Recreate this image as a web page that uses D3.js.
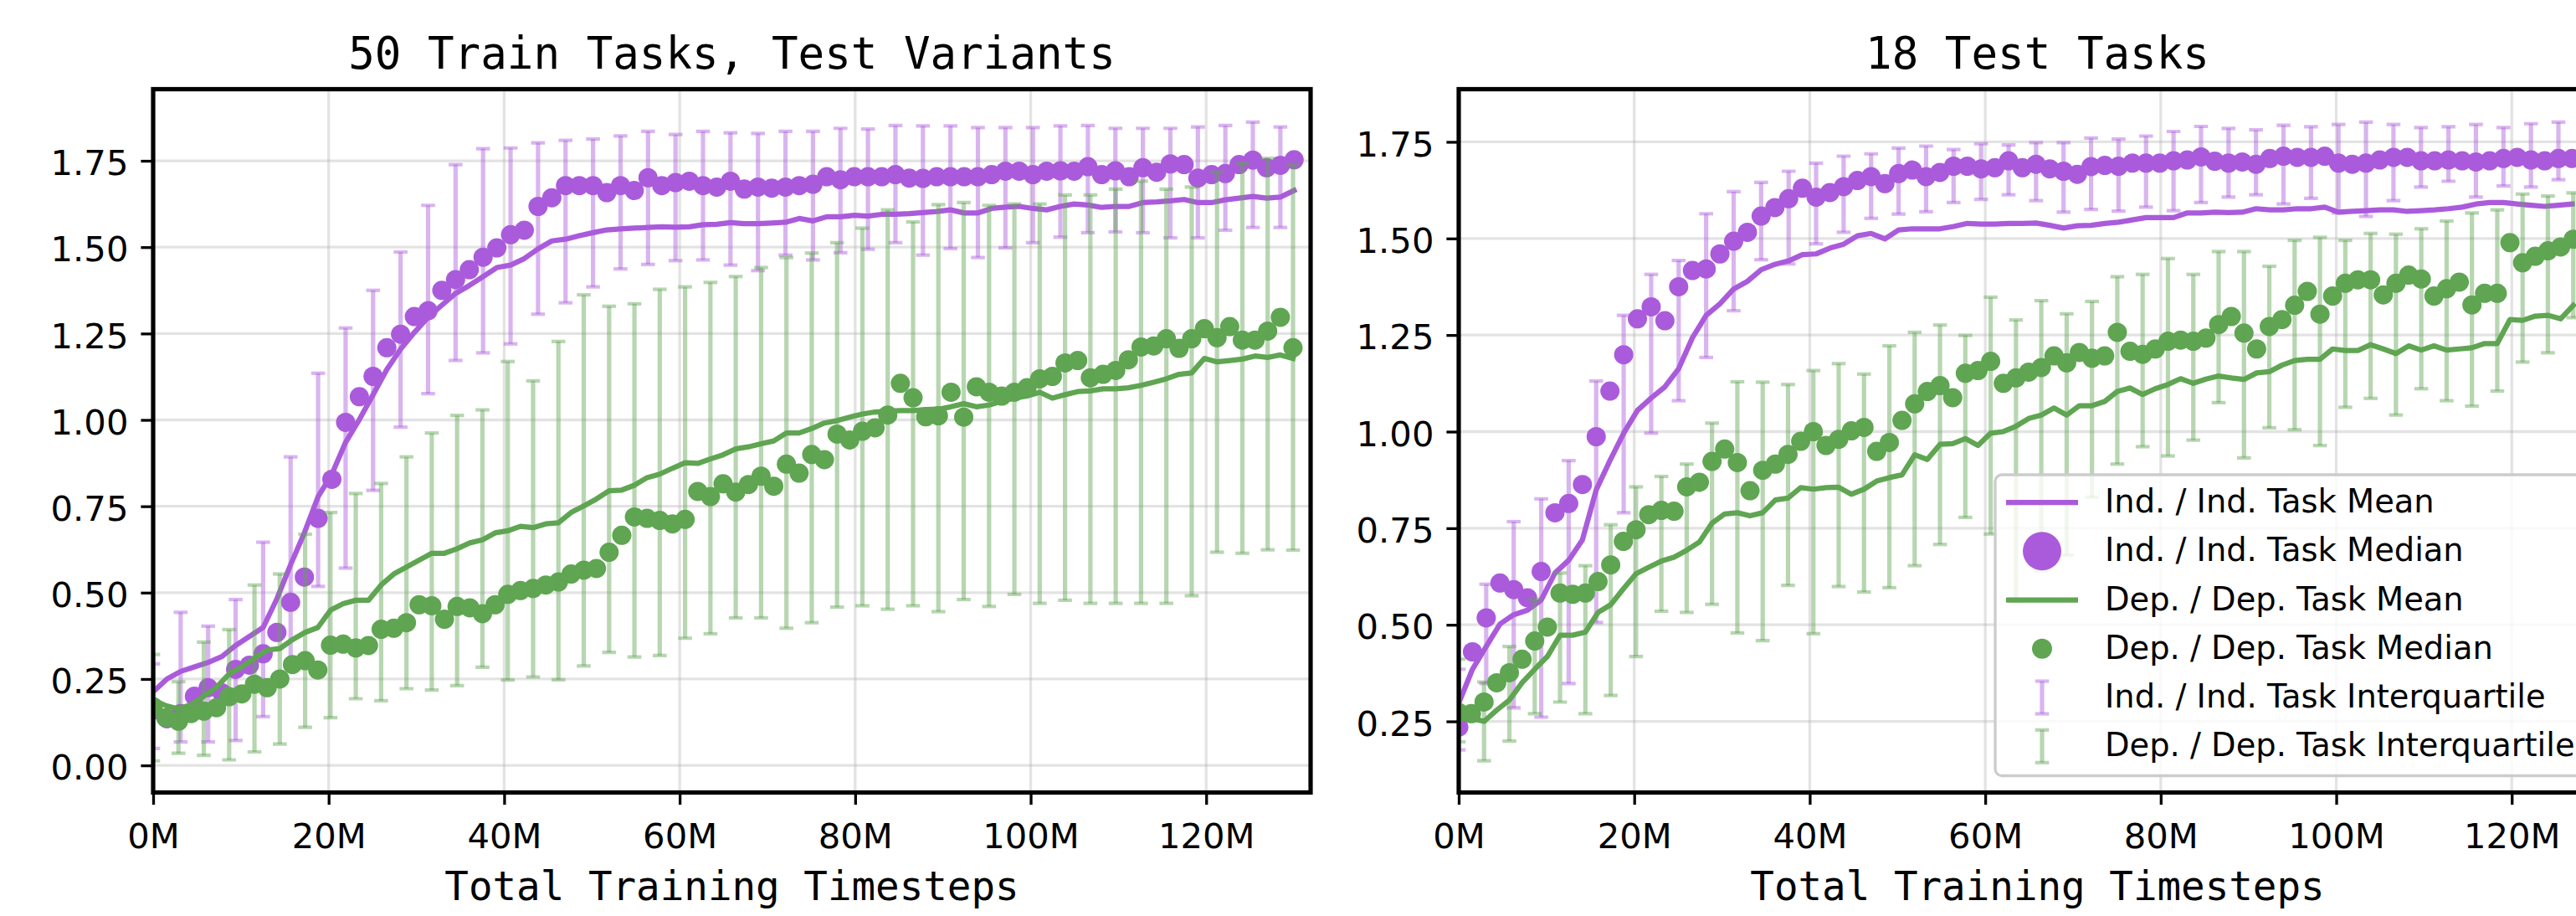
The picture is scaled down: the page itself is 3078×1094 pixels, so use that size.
<!DOCTYPE html>
<html>
<head>
<meta charset="utf-8">
<script src="https://cdn.jsdelivr.net/npm/d3@7"></script>
<style>
  html, body { margin: 0; padding: 0; background: #fff; }
  svg { display: block; }
</style>
</head>
<body>
<svg id="chart" width="3078" height="1094"></svg>
<script>
// ---------------- DATA ----------------
// Timesteps are logged at a fixed interval (millions of steps) per series type.
const IND_INTERVAL_M = 1.5665;   // Ind. / Ind. series logging interval
const DEP_INTERVAL_M = 1.4433;   // Dep. / Dep. series logging interval
const ERROR_EVERY = 2;           // interquartile bars shown on every 2nd point

const xTickValues = [0, 20, 40, 60, 80, 100, 120];
const xTickLabels = ["0M", "20M", "40M", "60M", "80M", "100M", "120M"];
const yTicksTrain = [0, 0.25, 0.5, 0.75, 1.0, 1.25, 1.5, 1.75];
const yTicksTest  = [0.25, 0.5, 0.75, 1.0, 1.25, 1.5, 1.75];

const titles = ["50 Train Tasks, Test Variants", "18 Test Tasks"];
const xLabel = "Total Training Timesteps";
const legendLabels = [
  "Ind. / Ind. Task Mean",
  "Ind. / Ind. Task Median",
  "Dep. / Dep. Task Mean",
  "Dep. / Dep. Task Median",
  "Ind. / Ind. Task Interquartile",
  "Dep. / Dep. Task Interquartile"
];

// ---- Panel 1: 50 Train Tasks, Test Variants ----
const trainIndMedian = [0.16,0.135,0.15,0.20,0.225,0.21,0.278,0.29,0.323,0.385,
  0.472,0.545,0.715,0.828,0.993,1.067,1.126,1.209,1.248,1.299,
  1.316,1.375,1.406,1.435,1.471,1.498,1.536,1.549,1.618,1.643,
  1.678,1.678,1.678,1.658,1.678,1.664,1.701,1.678,1.687,1.691,
  1.678,1.674,1.691,1.668,1.674,1.671,1.674,1.678,1.682,1.704,
  1.695,1.704,1.704,1.704,1.710,1.700,1.699,1.704,1.704,1.704,
  1.704,1.710,1.720,1.720,1.710,1.720,1.721,1.720,1.733,1.710,
  1.721,1.704,1.730,1.717,1.741,1.739,1.700,1.710,1.713,1.739,
  1.752,1.730,1.737,1.753];
const trainIndMean = [0.213,0.25,0.272,0.285,0.298,0.315,0.347,0.373,0.399,0.482,
  0.581,0.673,0.778,0.843,0.935,1.001,1.073,1.146,1.205,1.253,
  1.297,1.332,1.366,1.389,1.415,1.441,1.448,1.467,1.495,1.518,
  1.523,1.533,1.542,1.550,1.553,1.555,1.557,1.559,1.558,1.559,
  1.565,1.566,1.571,1.568,1.568,1.570,1.572,1.583,1.576,1.588,
  1.588,1.592,1.590,1.595,1.595,1.597,1.600,1.603,1.608,1.599,
  1.599,1.612,1.616,1.618,1.612,1.608,1.618,1.625,1.622,1.615,
  1.618,1.618,1.629,1.631,1.634,1.638,1.629,1.629,1.637,1.642,
  1.647,1.642,1.645,1.664];
const trainIndQ1 = [0.049,0.068,0.068,0.072,0.141,0.298,0.518,0.571,0.796,0.979,
  1.076,1.172,1.194,1.220,1.306,1.339,1.385,1.437,1.450,1.461,
  1.463,1.448,1.432,1.477,1.463,1.484,1.494,1.513,1.477,1.496,
  1.470,1.498,1.513,1.529,1.542,1.544,1.542,1.527,1.527,1.549,
  1.557,1.557];
const trainIndQ3 = [0.294,0.443,0.403,0.480,0.646,0.893,1.135,1.266,1.375,1.486,
  1.621,1.739,1.785,1.787,1.802,1.809,1.813,1.822,1.835,1.826,
  1.835,1.831,1.829,1.835,1.835,1.844,1.842,1.852,1.851,1.851,
  1.846,1.846,1.846,1.851,1.852,1.844,1.844,1.844,1.848,1.852,
  1.862,1.848];
const trainDepMedian = [0.17,0.138,0.128,0.15,0.157,0.167,0.199,0.207,0.235,0.225,
  0.25,0.292,0.303,0.276,0.348,0.351,0.34,0.347,0.394,0.397,
  0.413,0.465,0.462,0.423,0.46,0.456,0.439,0.465,0.495,0.506,
  0.512,0.522,0.531,0.554,0.565,0.570,0.617,0.666,0.719,0.715,
  0.709,0.699,0.712,0.793,0.778,0.815,0.791,0.813,0.837,0.808,
  0.872,0.846,0.900,0.885,0.959,0.942,0.967,0.977,1.014,1.106,
  1.064,1.009,1.012,1.080,1.008,1.096,1.080,1.069,1.080,1.093,
  1.119,1.126,1.165,1.172,1.122,1.132,1.143,1.174,1.211,1.214,
  1.235,1.207,1.235,1.264,1.238,1.270,1.231,1.231,1.257,1.297,
  1.209];
const trainDepMean = [0.19,0.173,0.163,0.176,0.2,0.226,0.265,0.285,0.31,0.334,
  0.338,0.364,0.385,0.399,0.449,0.468,0.478,0.478,0.522,0.554,
  0.574,0.594,0.614,0.614,0.627,0.644,0.653,0.673,0.679,0.692,
  0.688,0.699,0.702,0.732,0.751,0.771,0.795,0.797,0.811,0.833,
  0.843,0.86,0.876,0.874,0.887,0.899,0.916,0.922,0.931,0.939,
  0.962,0.962,0.975,0.991,0.998,1.008,1.017,1.023,1.025,1.027,
  1.027,1.030,1.031,1.038,1.047,1.038,1.043,1.054,1.063,1.069,
  1.080,1.063,1.073,1.082,1.084,1.090,1.090,1.093,1.100,1.109,
  1.119,1.132,1.136,1.178,1.168,1.172,1.176,1.185,1.181,1.188,
  1.178];
const trainDepQ1 = [0.013,0.035,0.029,0.016,0.039,0.062,0.110,0.138,0.193,0.187,
  0.222,0.218,0.231,0.284,0.247,0.256,0.248,0.288,0.327,0.314,
  0.318,0.368,0.381,0.427,0.427,0.397,0.413,0.458,0.462,0.452,
  0.462,0.445,0.480,0.460,0.495,0.469,0.478,0.469,0.469,0.469,
  0.469,0.491,0.617,0.614,0.624,0.623];
const trainDepQ3 = [0.321,0.242,0.357,0.393,0.522,0.554,0.669,0.732,0.787,0.816,
  0.893,0.962,1.013,1.029,1.169,1.113,1.227,1.362,1.329,1.336,
  1.378,1.385,1.398,1.415,1.441,1.470,1.483,1.513,1.555,1.608,
  1.573,1.623,1.629,1.621,1.625,1.625,1.651,1.651,1.668,1.691,
  1.668,1.674,1.717,1.743,1.757,1.739];

// ---- Panel 2: 18 Test Tasks ----
const testIndMedian = [0.235,0.430,0.518,0.608,0.591,0.570,0.638,0.790,0.814,0.863,
  0.987,1.105,1.199,1.292,1.323,1.287,1.375,1.417,1.421,1.460,
  1.493,1.516,1.558,1.580,1.603,1.630,1.607,1.619,1.634,1.650,
  1.660,1.642,1.668,1.677,1.660,1.671,1.687,1.687,1.680,1.683,
  1.701,1.683,1.692,1.680,1.674,1.666,1.686,1.689,1.687,1.695,
  1.695,1.695,1.701,1.703,1.711,1.700,1.695,1.698,1.692,1.707,
  1.713,1.710,1.710,1.713,1.695,1.692,1.695,1.703,1.710,1.710,
  1.701,1.701,1.703,1.701,1.698,1.701,1.707,1.710,1.703,1.701,
  1.707,1.707];
const testIndMean = [0.297,0.385,0.444,0.502,0.526,0.538,0.564,0.634,0.667,0.720,
  0.849,0.925,0.996,1.055,1.087,1.116,1.163,1.243,1.301,1.331,
  1.369,1.389,1.419,1.433,1.442,1.458,1.460,1.475,1.485,1.507,
  1.513,1.499,1.522,1.525,1.525,1.525,1.531,1.539,1.537,1.537,
  1.539,1.539,1.540,1.534,1.527,1.533,1.534,1.539,1.542,1.548,
  1.554,1.554,1.554,1.566,1.566,1.568,1.567,1.568,1.577,1.574,
  1.574,1.577,1.577,1.581,1.568,1.570,1.572,1.574,1.574,1.570,
  1.572,1.574,1.577,1.581,1.589,1.593,1.593,1.589,1.586,1.583,
  1.586,1.589];
const testIndQ1 = [0.176,0.348,0.285,0.261,0.348,0.506,0.790,0.996,1.080,1.192,
  1.313,1.445,1.434,1.486,1.516,1.552,1.563,1.569,1.593,1.601,
  1.613,1.598,1.568,1.575,1.571,1.581,1.572,1.593,1.607,1.613,
  1.589,1.604,1.566,1.557,1.598,1.633,1.648,1.607,1.636,1.633,
  1.652];
const testIndQ3 = [0.385,0.605,0.767,0.826,0.925,1.131,1.301,1.407,1.443,1.564,
  1.621,1.645,1.674,1.695,1.713,1.719,1.734,1.739,1.730,1.745,
  1.742,1.748,1.748,1.760,1.757,1.765,1.777,1.790,1.785,1.781,
  1.793,1.789,1.795,1.801,1.795,1.787,1.789,1.795,1.787,1.797,
  1.801];
const testDepMedian = [0.273,0.270,0.300,0.350,0.376,0.411,0.458,0.494,0.582,0.579,
  0.582,0.612,0.655,0.716,0.746,0.785,0.796,0.794,0.857,0.869,
  0.923,0.955,0.920,0.847,0.900,0.916,0.941,0.975,1.000,0.964,
  0.980,1.002,1.011,0.949,0.972,1.029,1.072,1.104,1.119,1.088,
  1.151,1.158,1.182,1.125,1.139,1.154,1.166,1.196,1.178,1.205,
  1.190,1.196,1.257,1.208,1.200,1.214,1.234,1.237,1.234,1.242,
  1.277,1.298,1.255,1.214,1.272,1.290,1.327,1.363,1.304,1.351,
  1.384,1.393,1.393,1.354,1.384,1.405,1.395,1.351,1.370,1.387,
  1.328,1.358,1.358,1.489,1.437,1.454,1.468,1.478,1.498];
const testDepMean = [0.258,0.258,0.250,0.279,0.305,0.350,0.385,0.418,0.473,0.473,
  0.481,0.532,0.552,0.593,0.632,0.649,0.665,0.675,0.693,0.714,
  0.763,0.787,0.790,0.782,0.790,0.823,0.828,0.855,0.851,0.855,
  0.856,0.838,0.851,0.872,0.881,0.888,0.940,0.928,0.967,0.969,
  0.982,0.964,0.996,1.000,1.014,1.034,1.043,1.061,1.043,1.067,
  1.067,1.078,1.104,1.113,1.096,1.111,1.122,1.137,1.125,1.136,
  1.144,1.139,1.135,1.152,1.155,1.172,1.184,1.187,1.187,1.214,
  1.210,1.210,1.225,1.214,1.202,1.222,1.211,1.222,1.211,1.214,
  1.217,1.228,1.228,1.290,1.288,1.299,1.301,1.292,1.327];
const testDepQ1 = [0.197,0.148,0.199,0.270,0.300,0.270,0.317,0.418,0.535,0.532,
  0.553,0.479,0.459,0.602,0.477,0.599,0.585,0.596,0.653,0.708,
  0.778,0.735,0.56,0.64,0.68,0.83,0.916,0.961,0.937,0.978,
  1.075,0.932,1.010,1.005,0.964,1.063,1.086,1.043,1.111,1.080,
  1.066,1.105,1.180,1.204,1.295];
const testDepQ3 = [0.411,0.352,0.444,0.567,0.634,0.653,0.759,0.857,0.884,0.916,
  1.022,1.129,1.128,1.122,1.158,1.176,1.149,1.222,1.257,1.276,
  1.249,1.348,1.289,1.339,1.305,1.337,1.401,1.407,1.448,1.407,
  1.466,1.466,1.428,1.495,1.503,1.495,1.513,1.511,1.525,1.545,
  1.566,1.574,1.615,1.610,1.618];

// ---------------- STYLE / LAYOUT ----------------
const PURPLE = "#aa5bdb";
const GREEN = "#5fa552";
const BAR_ALPHA = 0.45;
const AX_TOP = 106.5, AX_BOTTOM = 946.5, AX_W = 1383;
const X_MAX = 131.9;
const TICK_FONT = 41.7;

const svg = d3.select("#chart");
const defs = svg.append("defs");

function drawPanel(cfg) {
  const g = svg.append("g");
  const x = d3.scaleLinear().domain([0, X_MAX]).range([cfg.left, cfg.left + AX_W]);
  const y = d3.scaleLinear().domain(cfg.yDomain).range([AX_BOTTOM, AX_TOP]);

  defs.append("clipPath").attr("id", "clip" + cfg.id)
    .append("rect").attr("x", cfg.left).attr("y", AX_TOP)
    .attr("width", AX_W).attr("height", AX_BOTTOM - AX_TOP);

  // grid
  const grid = g.append("g");
  grid.selectAll("line.gx").data(xTickValues).join("line").attr("class", "gx")
    .attr("x1", d => x(d)).attr("x2", d => x(d)).attr("y1", AX_TOP).attr("y2", AX_BOTTOM)
    .attr("stroke", "#b0b0b0").attr("stroke-opacity", 0.35).attr("stroke-width", 3.3);
  grid.selectAll("line.gy").data(cfg.yTicks).join("line").attr("class", "gy")
    .attr("x1", cfg.left).attr("x2", cfg.left + AX_W).attr("y1", d => y(d)).attr("y2", d => y(d))
    .attr("stroke", "#b0b0b0").attr("stroke-opacity", 0.35).attr("stroke-width", 3.3);

  const plot = g.append("g").attr("clip-path", `url(#clip${cfg.id})`);

  cfg.groups.forEach(grp => {
    const xs = (i) => x(i * grp.interval);
    // mean line
    plot.append("path").datum(grp.mean)
      .attr("d", d3.line().x((d, i) => xs(i)).y(d => y(d)))
      .attr("fill", "none").attr("stroke", grp.color).attr("stroke-width", 6.25)
      .attr("stroke-linejoin", "round").attr("stroke-linecap", "square");
    // median markers
    plot.append("g").selectAll("circle").data(grp.median).join("circle")
      .attr("cx", (d, i) => xs(i)).attr("cy", d => y(d)).attr("r", 11.5)
      .attr("fill", grp.color);
    // interquartile error bars (every 2nd point)
    const bars = grp.q1.map((lo, k) => ({ i: k * ERROR_EVERY, lo, hi: grp.q3[k] }));
    const eb = plot.append("g").attr("stroke", grp.color).attr("stroke-opacity", BAR_ALPHA);
    eb.selectAll("line.v").data(bars).join("line").attr("class", "v")
      .attr("x1", d => xs(d.i)).attr("x2", d => xs(d.i))
      .attr("y1", d => y(d.lo)).attr("y2", d => y(d.hi)).attr("stroke-width", 5.2);
    ["lo", "hi"].forEach(k => {
      eb.selectAll("line.c" + k).data(bars).join("line").attr("class", "c" + k)
        .attr("x1", d => xs(d.i) - 8.3).attr("x2", d => xs(d.i) + 8.3)
        .attr("y1", d => y(d[k])).attr("y2", d => y(d[k])).attr("stroke-width", 4.2);
    });
  });

  // spines
  g.append("rect").attr("x", cfg.left).attr("y", AX_TOP).attr("width", AX_W)
    .attr("height", AX_BOTTOM - AX_TOP).attr("fill", "none")
    .attr("stroke", "#000").attr("stroke-width", 5.2);

  // axes
  const xAxis = d3.axisBottom(x).tickValues(xTickValues)
    .tickFormat((d, i) => xTickLabels[i]).tickSize(14.6).tickPadding(22);
  g.append("g").attr("transform", `translate(0,${AX_BOTTOM})`).call(xAxis)
    .call(a => a.select(".domain").remove())
    .call(a => a.selectAll(".tick line").attr("stroke", "#000").attr("stroke-width", 3.3))
    .call(a => a.selectAll(".tick text").attr("font-family", "DejaVu Sans")
      .attr("font-size", TICK_FONT).attr("fill", "#000"));

  const yAxis = d3.axisLeft(y).tickValues(cfg.yTicks).tickFormat(d3.format(".2f"))
    .tickSize(14.6).tickPadding(15);
  g.append("g").attr("transform", `translate(${cfg.left},0)`).call(yAxis)
    .call(a => a.select(".domain").remove())
    .call(a => a.selectAll(".tick line").attr("stroke", "#000").attr("stroke-width", 3.3))
    .call(a => a.selectAll(".tick text").attr("font-family", "DejaVu Sans")
      .attr("font-size", TICK_FONT).attr("fill", "#000").attr("dy", "0.40em"));

  // title & x label
  g.append("text").attr("x", cfg.left + AX_W / 2).attr("y", 82)
    .attr("text-anchor", "middle").attr("font-family", "DejaVu Sans Mono")
    .attr("font-size", 52.5).attr("fill", "#000").text(cfg.title);
  g.append("text").attr("x", cfg.left + AX_W / 2).attr("y", 1075)
    .attr("text-anchor", "middle").attr("font-family", "DejaVu Sans Mono")
    .attr("font-size", 47.5).attr("fill", "#000").text(xLabel);
}

const panels = [
  { id: 0, left: 183, title: titles[0], yDomain: [-0.0785, 1.9573], yTicks: yTicksTrain,
    groups: [
      { color: PURPLE, interval: IND_INTERVAL_M, mean: trainIndMean, median: trainIndMedian, q1: trainIndQ1, q3: trainIndQ3 },
      { color: GREEN, interval: DEP_INTERVAL_M, mean: trainDepMean, median: trainDepMedian, q1: trainDepQ1, q3: trainDepQ3 }
    ] },
  { id: 1, left: 1743, title: titles[1], yDomain: [0.0659, 1.8864], yTicks: yTicksTest,
    groups: [
      { color: PURPLE, interval: IND_INTERVAL_M, mean: testIndMean, median: testIndMedian, q1: testIndQ1, q3: testIndQ3 },
      { color: GREEN, interval: DEP_INTERVAL_M, mean: testDepMean, median: testDepMedian, q1: testDepQ1, q3: testDepQ3 }
    ] }
];
panels.forEach(drawPanel);

// ---------------- LEGEND (lower right of panel 2) ----------------
const lg = svg.append("g");
const LEG_X = 2384, LEG_Y = 567, LEG_W = 723, LEG_H = 359.5;
lg.append("rect").attr("x", LEG_X).attr("y", LEG_Y).attr("width", LEG_W).attr("height", LEG_H)
  .attr("rx", 8).attr("fill", "#fff").attr("fill-opacity", 0.8)
  .attr("stroke", "#cccccc").attr("stroke-width", 3.3);
const rowCenter = k => 598 + 58.26 * k;
const HX0 = 2397, HX1 = 2483, HXC = 2440;
legendLabels.forEach((lab, k) => {
  const cy = rowCenter(k) + 2;
  if (k === 0 || k === 2) {
    lg.append("line").attr("x1", HX0).attr("x2", HX1).attr("y1", cy).attr("y2", cy)
      .attr("stroke", k === 0 ? PURPLE : GREEN).attr("stroke-width", 6.25);
  } else if (k === 1) {
    lg.append("circle").attr("cx", HXC).attr("cy", cy).attr("r", 23).attr("fill", PURPLE);
  } else if (k === 3) {
    lg.append("circle").attr("cx", HXC).attr("cy", cy).attr("r", 12).attr("fill", GREEN);
  } else {
    const c = k === 4 ? PURPLE : GREEN;
    const e = lg.append("g").attr("stroke", c).attr("stroke-opacity", BAR_ALPHA);
    e.append("line").attr("x1", HXC).attr("x2", HXC).attr("y1", cy - 19.5).attr("y2", cy + 19.5).attr("stroke-width", 5.2);
    e.append("line").attr("x1", HXC - 8.3).attr("x2", HXC + 8.3).attr("y1", cy - 19.5).attr("y2", cy - 19.5).attr("stroke-width", 4.2);
    e.append("line").attr("x1", HXC - 8.3).attr("x2", HXC + 8.3).attr("y1", cy + 19.5).attr("y2", cy + 19.5).attr("stroke-width", 4.2);
  }
  lg.append("text").attr("x", 2515).attr("y", rowCenter(k) + 14)
    .attr("font-family", "DejaVu Sans").attr("font-size", 38.4).attr("fill", "#000").text(lab);
});
</script>
</body>
</html>
